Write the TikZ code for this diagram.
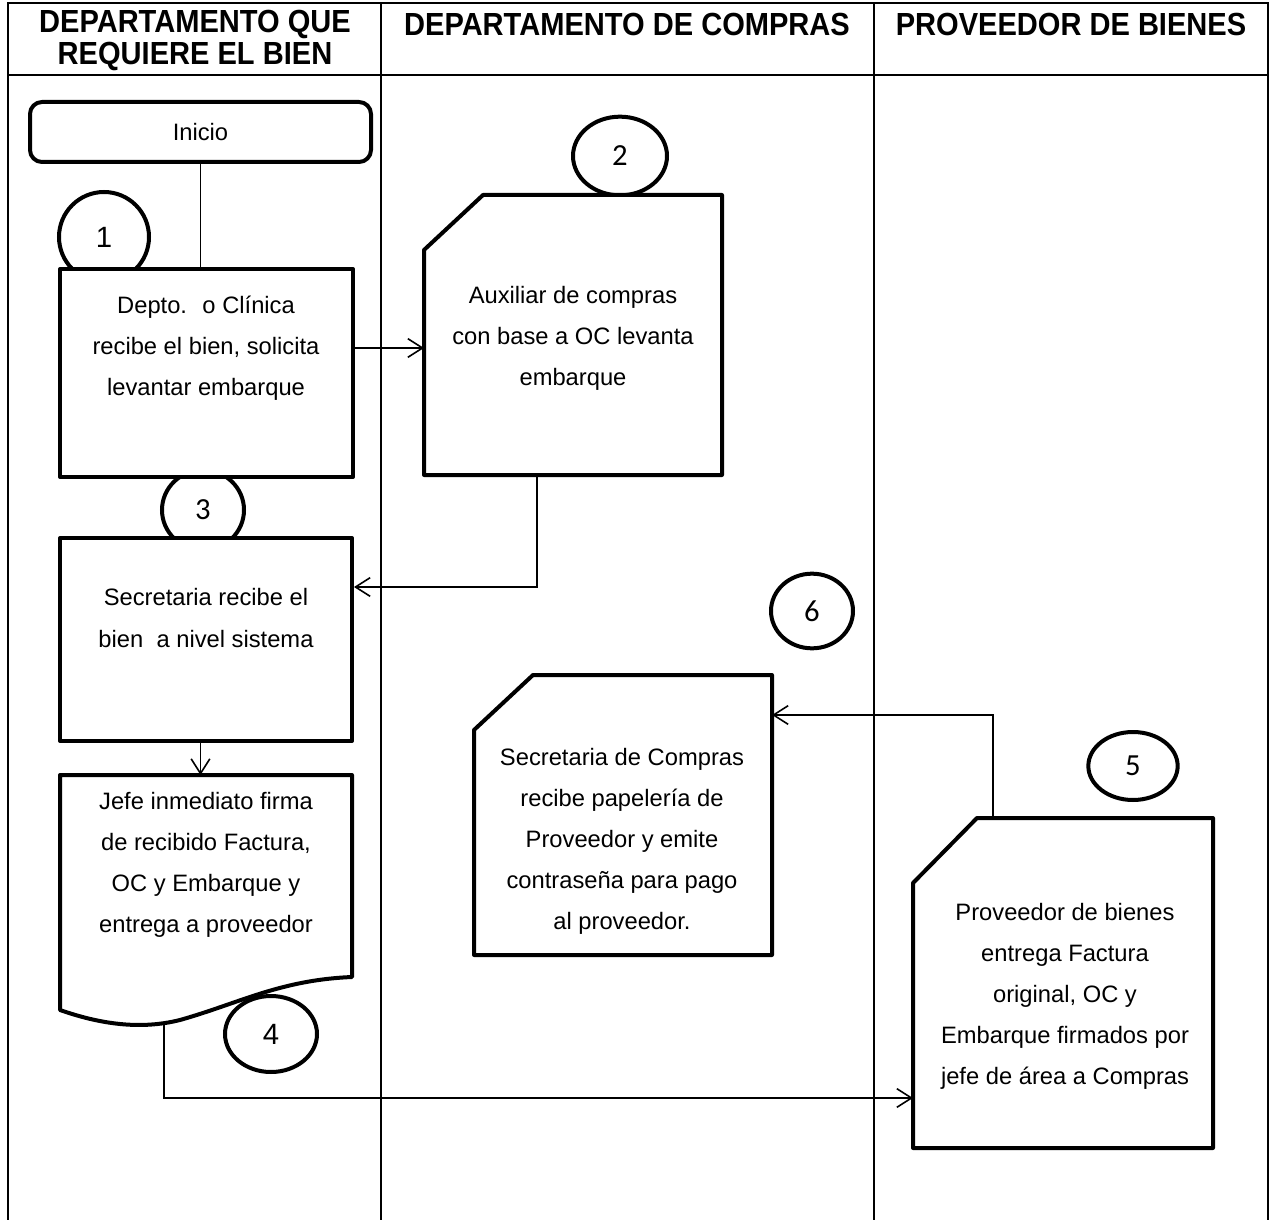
\documentclass[tikz,border=0pt]{standalone}
\usepackage{graphicx}
\usepackage{fontspec}
\setmainfont{Liberation Sans}
\newfontfamily\calfont{Carlito}
\usetikzlibrary{arrows.meta,shapes.geometric}
\newcommand{\hstretch}[1]{\scalebox{1}[1.1]{#1}}
\begin{document}
\begin{tikzpicture}[x=0.75pt,y=-0.75pt,
  lane/.style={line width=1.5pt},
  boxline/.style={line width=3pt, line join=round, fill=white},
  anchorbox/.style={draw=none, inner sep=0pt, outer sep=0pt},
  num/.style={ellipse, draw, line width=3pt, inner sep=0pt, fill=white},
  txt/.style={align=center, font=\fontsize{17.8pt}{30.8pt}\selectfont, inner sep=0pt},
  hdr/.style={align=center, font=\bfseries\fontsize{21.8pt}{24.75pt}\selectfont, inner sep=0pt},
  conn/.style={line width=1.2pt},
  arr/.style={conn, -{Straight Barb[length=11pt,width=14pt,line width=1.2pt]}}]

\useasboundingbox (0,0) rectangle (1275,1220);

% swimlanes
\draw[lane] (8,1220) -- (8,3) -- (1268,3) -- (1268,1220);
\draw[lane] (8,75) -- (1268,75);
\draw[lane] (381,3) -- (381,1220);
\draw[lane] (874,3) -- (874,1220);

\node[hdr] (h1a) at (195,24) {\hstretch{DEPARTAMENTO QUE}};
\node[hdr] (h1b) at (195,56) {\hstretch{REQUIERE EL BIEN}};
\node[hdr] (h2) at (627,24) {\hstretch{DEPARTAMENTO DE COMPRAS}};
\node[hdr] (h3) at (1071,24) {\hstretch{PROVEEDOR DE BIENES}};

% numbered circles (drawn first, boxes cover them)
\node[num, minimum width=67.5pt, minimum height=67.5pt] (c1) at (104,237) {\fontsize{22pt}{22pt}\selectfont 1};
\node[num, minimum width=70.5pt, minimum height=59pt] (c2) at (620,156) {\calfont\fontsize{23pt}{23pt}\selectfont 2};
\node[num, minimum width=61.5pt, minimum height=60pt] (c3) at (203,510) {\calfont\fontsize{23pt}{23pt}\selectfont 3};
\node[num, minimum width=69pt, minimum height=57pt] (c4) at (271,1034) {\fontsize{22pt}{22pt}\selectfont 4};
\node[num, minimum width=67pt, minimum height=51pt] (c5) at (1133,766) {\calfont\fontsize{23pt}{23pt}\selectfont 5};
\node[num, minimum width=61.5pt, minimum height=56pt] (c6) at (812,611) {\calfont\fontsize{23pt}{23pt}\selectfont 6};

% Inicio
\node[draw, boxline, rounded corners=9pt, minimum width=255.75pt, minimum height=45pt,
      font=\fontsize{17.8pt}{20pt}\selectfont] (ini) at (200.5,132) {Inicio};

% box 1
\node[draw, boxline, minimum width=219.75pt, minimum height=156pt] (b1) at (206.5,373) {};
\node[txt] (t1) at (206,348) {Depto.~ o Clínica\\recibe el bien, solicita\\levantar embarque};

% box 2 (chamfered)
\node[anchorbox, minimum width=223.5pt, minimum height=210pt] (b2) at (573,335) {};
\draw[boxline] ([yshift=-41.25pt]b2.north west) -- ([xshift=44.25pt]b2.north west)
  -- (b2.north east) -- (b2.south east) -- (b2.south west) -- cycle;
\node[txt] (t2) at (573,338) {Auxiliar de compras\\con base a OC levanta\\embarque};

% box 3
\node[draw, boxline, minimum width=219pt, minimum height=152.25pt] (b3) at (206,639.5) {};
\node[txt] (t3) at (206,618) {Secretaria recibe el\\bien~ a nivel sistema};

% box 4 (document)
\node[anchorbox, minimum width=219pt, minimum height=151.5pt] (b4) at (206,876) {};
\draw[boxline] (b4.north west) -- (b4.north east) -- (b4.south east)
  .. controls (280,980) and (240,1003) .. (180,1020)
  .. controls (140,1030) and (100,1024) .. (60,1010) -- cycle;
\node[txt] (t4) at (206,865) {Jefe inmediato firma\\de recibido Factura,\\OC y Embarque y\\entrega a proveedor};

% box 5 (chamfered)
\node[anchorbox, minimum width=225pt, minimum height=247.5pt] (b5) at (1063,983) {};
\draw[boxline] ([yshift=-48.75pt]b5.north west) -- ([xshift=48pt]b5.north west)
  -- (b5.north east) -- (b5.south east) -- (b5.south west) -- cycle;
\node[txt] (t5) at (1065,996) {Proveedor de bienes\\entrega Factura\\original, OC y\\Embarque firmados por\\jefe de área a Compras};

% box 6 (chamfered)
\node[anchorbox, minimum width=223.5pt, minimum height=210pt] (b6) at (623,815) {};
\draw[boxline] ([yshift=-41.25pt]b6.north west) -- ([xshift=44.25pt]b6.north west)
  -- (b6.north east) -- (b6.south east) -- (b6.south west) -- cycle;
\node[txt] (t6) at (622,841) {Secretaria de Compras\\recibe papelería de\\Proveedor y emite\\contraseña para pago\\al proveedor.};

% connectors
\draw[conn] (ini.south) -- (ini.south |- b1.north);
\draw[arr] (b1.east |- t1) -- (b2.west |- t1);
\coordinate (k23) at (537,587);
\draw[arr] (b2.south -| k23) |- (b3.east |- k23);
\draw[arr] (b3.south -| ini.south) -- (b4.north -| ini.south);
\coordinate (w4) at (164,1024);
\coordinate (k45) at (164,1098);
\draw[arr] (w4) -- (k45) -- (b5.west |- k45);
\coordinate (k56) at (993,715);
\draw[arr] (b5.north -| k56) |- (b6.east |- k56);
\end{tikzpicture}
\end{document}
